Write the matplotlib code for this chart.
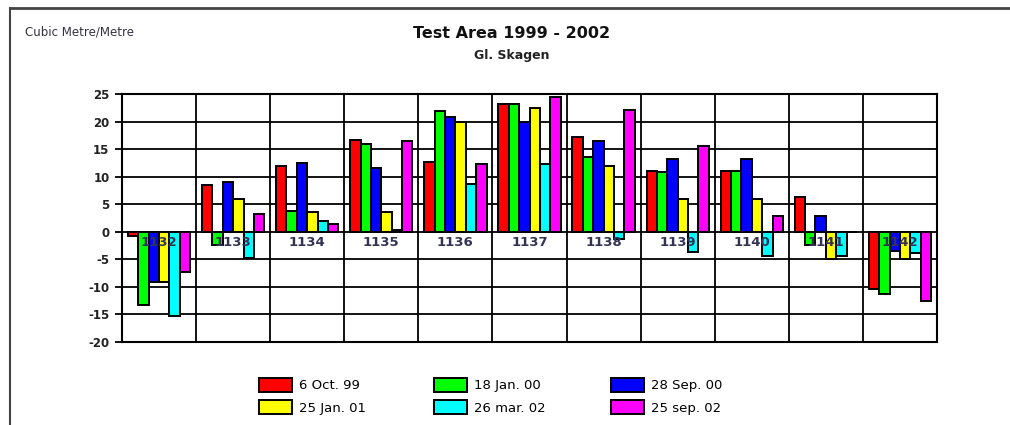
import numpy as np
import matplotlib
matplotlib.use("Agg")
import matplotlib.pyplot as plt
from matplotlib.patches import Patch
from matplotlib.lines import Line2D

categories = ["1132", "1133", "1134", "1135", "1136", "1137", "1138", "1139", "1140", "1141", "1142"]
series_names = ["6 Oct. 99", "18 Jan. 00", "28 Sep. 00", "25 Jan. 01", "26 mar. 02", "25 sep. 02"]
series_colors = ["#ff0000", "#00ff00", "#0000ff", "#ffff00", "#00ffff", "#ff00ff"]

oct99 = [-0.8, 8.4, 11.9, 16.7, 12.7, 23.2, 17.2, 11.1, 11.1, 6.4, -10.4]
jan00 = [-13.2, -2.4, 3.8, 15.9, 22.0, 23.2, 13.6, 10.8, 11.1, -2.4, -11.2]
sep00 = [-9.2, 9.1, 12.4, 11.5, 20.8, 19.9, 16.4, 13.2, 13.2, 2.8, -3.4]
jan01 = [-9.2, 5.9, 3.6, 3.5, 19.9, 22.5, 11.9, 5.9, 5.9, -5.0, -5.0]
mar02 = [-15.2, -4.8, 2.0, 0.3, 8.7, 12.3, -1.4, -3.6, -4.4, -4.4, -3.9]
sep02 = [-7.3, 3.2, 1.5, 16.4, 12.3, 24.5, 22.1, 15.6, 2.8, 0.0, -12.5]
series = [oct99, jan00, sep00, jan01, mar02, sep02]

yticks = [25, 20, 15, 10, 5, 0, -5, -10, -15, -20]

fig = plt.figure(figsize=(10.1, 4.25), dpi=100)
fig.patch.set_facecolor("white")
ax = fig.add_axes([122/1010, 1-342/425, 815/1010, 248/425])

x = np.arange(len(categories))
w = 0.14
for i, (vals, col) in enumerate(zip(series, series_colors)):
    ax.bar(x + (i - 2.5) * w, vals, width=w, color=col, edgecolor="black",
           linewidth=1.4, zorder=3)

ax.set_xlim(-0.5, len(categories) - 0.5)
ax.set_ylim(-20, 25)
ax.set_yticks(yticks)
ax.set_yticklabels([str(t) for t in yticks], fontsize=8.5, fontweight="bold", color="#222222")
ax.set_xticks([])
ax.tick_params(axis="y", length=5, width=1.3, pad=4, direction="out")
for yv in yticks:
    ax.axhline(yv, color="black", linewidth=1.3, zorder=1)
for xv in np.arange(0.5, len(categories) - 0.5, 1.0):
    ax.axvline(xv, color="black", linewidth=1.3, zorder=1)
for s in ax.spines.values():
    s.set_linewidth(1.5)
    s.set_color("black")

for xi, c in zip(x, categories):
    ax.text(xi, -2.0, c, ha="center", va="center", fontsize=9.5,
            fontweight="bold", color="#333355", zorder=5)

fig.text(25/1010, 1-32/425, "Cubic Metre/Metre", fontsize=8.5, color="#333344",
         va="center", ha="left")
fig.text(512/1010, 1-33/425, "Test Area 1999 - 2002", fontsize=11.5, fontweight="bold",
         color="#111111", va="center", ha="center")
fig.text(512/1010, 1-56/425, "Gl. Skagen", fontsize=9, fontweight="bold",
         color="#222222", va="center", ha="center")

# figure frame
fig.add_artist(Line2D([10/1010, 1.0], [1-8/425, 1-8/425], transform=fig.transFigure,
                      color="#444444", linewidth=2))
fig.add_artist(Line2D([10/1010, 10/1010], [0, 1-8/425], transform=fig.transFigure,
                      color="#444444", linewidth=1.5))

handles = [Patch(facecolor=c, edgecolor="black", linewidth=1.4) for c in series_colors]
col_x = [259, 434, 611]
for ci, xp in enumerate(col_x):
    idx = [ci, ci + 3]
    fig.legend([handles[i] for i in idx], [series_names[i] for i in idx],
               ncol=1, loc="upper left", bbox_to_anchor=(xp/1010, 1-378/425),
               frameon=False, fontsize=9.5, handlelength=2.5, handleheight=1.2,
               labelspacing=0.62, handletextpad=0.55, borderpad=0, borderaxespad=0)

fig.savefig("out.png", dpi=100)
